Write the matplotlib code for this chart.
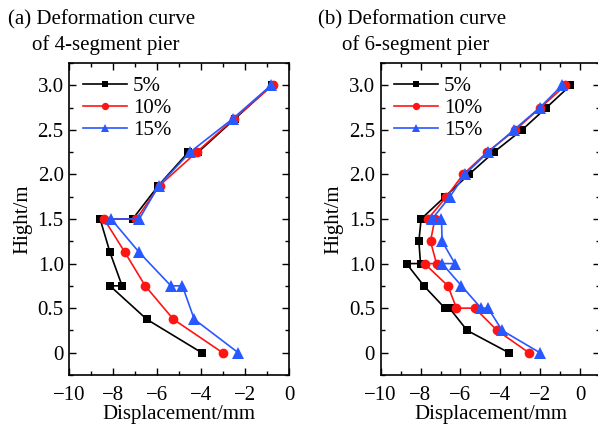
import matplotlib
matplotlib.use("Agg")
import matplotlib.pyplot as plt
from matplotlib.ticker import MultipleLocator, FuncFormatter

plt.rcParams['font.family'] = ['Liberation Serif', 'DejaVu Serif']
plt.rcParams['mathtext.fontset'] = 'stix'
plt.rcParams['axes.unicode_minus'] = True

series_labels = ["5%", "10%", "15%"]
series_colors = ["#000000", "#ff1414", "#2858ff"]
series_markers = ["s", "o", "^"]

# (a) 4-segment pier: height (m) and displacement (mm)
h4_5 = [0, 0.375, 0.75, 0.75, 1.125, 1.5, 1.5, 1.875, 2.25, 2.25, 2.625, 3.0]
d4_5 = [-3.98, -6.48, -8.15, -7.6, -8.15, -8.6, -7.12, -5.95, -4.59, -4.14, -2.47, -0.8]
h4_10 = [0, 0.375, 0.75, 1.125, 1.5, 1.5, 1.875, 2.25, 2.625, 3.0]
d4_10 = [-3.03, -5.27, -6.55, -7.47, -8.42, -6.95, -5.9, -4.21, -2.51, -0.76]
h4_15 = [0, 0.375, 0.75, 0.75, 1.125, 1.5, 1.5, 1.875, 2.25, 2.625, 3.0]
d4_15 = [-2.32, -4.32, -4.86, -5.38, -6.82, -8.1, -6.82, -5.93, -4.51, -2.57, -0.83]

# (b) 6-segment pier
h6_5 = [0, 0.25, 0.5, 0.5, 0.75, 1.0, 1.0, 1.25, 1.5, 1.75, 2.0, 2.25, 2.5, 2.75, 3.0]
d6_5 = [-3.58, -5.67, -6.55, -6.78, -7.83, -8.7, -8.0, -8.08, -7.97, -6.78, -5.58, -4.33, -2.92, -1.7, -0.5]
h6_10 = [0, 0.25, 0.5, 0.5, 0.75, 1.0, 1.0, 1.25, 1.5, 1.5, 1.75, 2.0, 2.25, 2.5, 2.75, 3.0]
d6_10 = [-2.58, -4.17, -5.28, -6.2, -6.63, -7.8, -7.2, -7.5, -7.28, -7.63, -6.7, -5.87, -4.67, -3.25, -2.0, -0.75]
h6_15 = [0, 0.25, 0.5, 0.5, 0.75, 1.0, 1.0, 1.25, 1.5, 1.5, 1.75, 2.0, 2.25, 2.5, 2.75, 3.0]
d6_15 = [-2.03, -3.92, -4.62, -4.97, -5.95, -6.92, -6.28, -6.92, -6.95, -7.42, -6.53, -5.78, -4.62, -3.33, -2.03, -0.92]

panels = [
    {"title": ["(a) Deformation curve", "of 4-segment pier"],
     "series": [(d4_5, h4_5), (d4_10, h4_10), (d4_15, h4_15)],
     "xlim": (-10, 0)},
    {"title": ["(b) Deformation curve", "of 6-segment pier"],
     "series": [(d6_5, h6_5), (d6_10, h6_10), (d6_15, h6_15)],
     "xlim": (-10, 1)},
]

W, H = 598, 428
fig = plt.figure(figsize=(W / 100, H / 100), dpi=100)

axes_px = [(69.3, 63, 220, 312), (380.5, 63, 220, 312)]
title_px = [(8, 10), (318, 10)]
FS = 15


def yfmt(v, pos):
    return "0" if abs(v) < 1e-9 else f"{v:.1f}"


def xfmt(v, pos):
    return "0" if abs(v) < 1e-9 else f"{int(round(v))}".replace("-", "\u2212")


for p, (x0, y0, w, h), (tx, ty) in zip(panels, axes_px, title_px):
    ax = fig.add_axes([x0 / W, 1 - (y0 + h) / H, w / W, h / H])
    for (d, hh), lab, c, m in zip(p["series"], series_labels, series_colors, series_markers):
        ms = 6 if m == "s" else (7 if m == "o" else 8)
        ax.plot(d, hh, color=c, marker=m, markersize=ms, linewidth=1.2, label=lab,
                markeredgewidth=0)
    ax.set_xlim(*p["xlim"])
    ax.set_ylim(-0.25, 3.25)
    ax.xaxis.set_major_locator(MultipleLocator(2))
    ax.xaxis.set_minor_locator(MultipleLocator(1))
    ax.yaxis.set_major_locator(MultipleLocator(0.5))
    ax.yaxis.set_minor_locator(MultipleLocator(0.25))
    ax.yaxis.set_major_formatter(FuncFormatter(yfmt))
    ax.xaxis.set_major_formatter(FuncFormatter(xfmt))
    ax.tick_params(which="both", direction="in", top=True, right=True, labelsize=FS, width=1.0)
    ax.tick_params(which="major", length=5, pad=4)
    ax.tick_params(which="minor", length=3)
    ax.tick_params(axis="x", which="major", pad=8)
    for s in ax.spines.values():
        s.set_linewidth(1.2)
    ax.set_xlabel("Displacement/mm", fontsize=FS, labelpad=0)
    ax.set_ylabel("Hight/m", fontsize=FS, labelpad=4)
    ax.legend(loc="upper left", bbox_to_anchor=(0.0, 1.0), frameon=False, fontsize=FS,
              handlelength=2.1, handletextpad=0.3, labelspacing=0.12,
              borderaxespad=0.3, borderpad=0.35, markerscale=0.75)
    fig.text(tx / W, 1 - ty / H, p["title"][0], fontsize=FS, ha="left", va="top")
    fig.text((tx + 24) / W, 1 - (ty + 25) / H, p["title"][1], fontsize=FS, ha="left", va="top")

fig.savefig("out.png", dpi=100)
